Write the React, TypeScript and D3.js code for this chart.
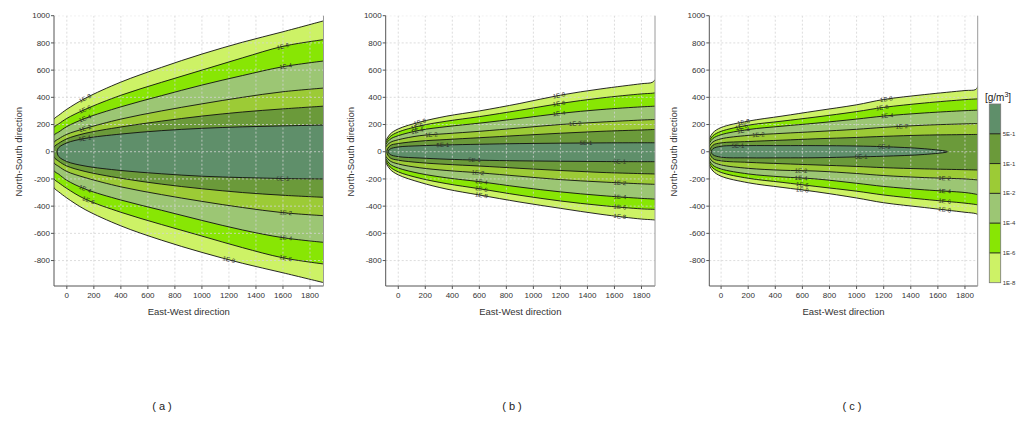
import React from 'react';
import * as d3 from 'd3';

// ---------- data ----------
const LEVELS = ['1E-8', '1E-6', '1E-4', '1E-2', '1E-1', '5E-1'];
const BAND_COLORS = ['#cdf266', '#88e604', '#9cc674', '#9ccb36', '#6b9a3a', '#5f8f6a'];
const LEGEND_LABELS = ['5E-1', '1E-1', '1E-2', '1E-4', '1E-6', '1E-8'];
const X_TICKS = [0, 200, 400, 600, 800, 1000, 1200, 1400, 1600, 1800];
const Y_TICKS = [-800, -600, -400, -200, 0, 200, 400, 600, 800, 1000];
const Y_DOMAIN = [-987, 1000];

// panel (a)
const A_X = [-95, -60, 0, 135, 400, 700, 1000, 1300, 1600, 1900];
const A_LVX = [-200, -170, -140, -120, -105, -72];
const A_RVX = [null, null, null, null, null, null];
const A_UP = [
  [240, 268, 312, 392, 512, 620, 718, 805, 882, 962],
  [180, 205, 245, 311, 415, 510, 600, 690, 775, 824],
  [122, 145, 185, 245, 330, 412, 490, 560, 625, 667],
  [70, 95, 128, 171, 240, 300, 352, 400, 441, 468],
  [35, 62, 95, 135, 182, 225, 262, 292, 315, 335],
  [null, 30, 65, 98, 130, 155, 172, 183, 190, 196],
];
const A_LO = [
  [-265, -295, -340, -425, -545, -650, -740, -820, -890, -962],
  [-200, -228, -270, -348, -445, -535, -620, -705, -780, -825],
  [-140, -165, -210, -274, -355, -430, -505, -575, -632, -666],
  [-82, -108, -145, -190, -258, -315, -365, -410, -448, -470],
  [-40, -70, -105, -145, -195, -238, -272, -300, -320, -335],
  [null, -35, -72, -105, -138, -162, -180, -190, -197, -200],
];
const A_LABELS = [
  [0, 'up', 135], [1, 'up', 135], [2, 'up', 135], [3, 'up', 135], [5, 'up', 135],
  [1, 'up', 1600], [2, 'up', 1620],
  [5, 'lo', 1600], [3, 'lo', 1620], [2, 'lo', 1620], [1, 'lo', 1620], [0, 'lo', 1200],
  [2, 'lo', 135], [1, 'lo', 160],
];

// panel (b)
const B_X = [-93, -60, 0, 160, 360, 600, 900, 1200, 1500, 1800, 1880, 1900];
const B_LVX = [-150, -130, -115, -105, -85, -75];
const B_RVX = [null, null, null, null, null, null];
const B_UP = [
  [82, 130, 168, 218, 262, 300, 355, 416, 462, 500, 510, 530],
  [68, 112, 145, 190, 225, 258, 305, 355, 395, 425, 430, 433],
  [52, 92, 118, 158, 185, 210, 245, 282, 310, 330, 334, 335],
  [34, 68, 88, 118, 133, 150, 175, 200, 218, 233, 236, 237],
  [null, 45, 60, 78, 90, 103, 120, 136, 150, 160, 163, 164],
  [null, 20, 35, 44, 50, 55, 60, 63, 65, 66, 66, 66],
];
const B_LO = [
  [-80, -130, -170, -225, -275, -318, -370, -416, -460, -495, -500, -502],
  [-66, -112, -148, -195, -235, -272, -320, -362, -395, -420, -423, -424],
  [-50, -92, -120, -160, -192, -220, -260, -295, -322, -343, -347, -348],
  [-33, -68, -90, -118, -138, -155, -180, -205, -222, -236, -239, -240],
  [null, -45, -62, -80, -93, -105, -122, -138, -152, -161, -163, -164],
  [null, -20, -36, -46, -55, -62, -67, -70, -72, -73, -73, -73],
];
const B_LABELS = [
  [0, 'up', 160], [1, 'up', 140], [2, 'up', 140], [3, 'up', 245], [5, 'up', 330],
  [0, 'up', 1190], [1, 'up', 1190], [2, 'up', 1190], [3, 'up', 1310], [5, 'up', 1390],
  [5, 'lo', 565], [3, 'lo', 590], [2, 'lo', 615], [1, 'lo', 615], [0, 'lo', 615],
  [5, 'lo', 1640], [3, 'lo', 1640], [2, 'lo', 1640], [1, 'lo', 1640], [0, 'lo', 1640],
];

// panel (c)
const C_X = [-87, -60, 0, 200, 450, 700, 1000, 1200, 1500, 1800, 1880, 1900];
const C_LVX = [-150, -130, -115, -105, -85, -72];
const C_RVX = [null, null, null, null, null, 1670];
const C_UP = [
  [97, 140, 178, 225, 262, 300, 345, 384, 420, 450, 458, 490],
  [80, 118, 150, 195, 225, 255, 295, 326, 358, 383, 388, 389],
  [62, 98, 125, 163, 188, 210, 240, 262, 285, 302, 305, 306],
  [40, 72, 95, 120, 135, 148, 165, 179, 195, 205, 207, 208],
  [null, 48, 65, 75, 85, 95, 105, 113, 122, 126, 127, 127],
  [null, 22, 40, 45, 45, 45, 42, 37, 22, null, null, null],
];
const C_LO = [
  [-100, -142, -180, -228, -262, -294, -340, -375, -410, -445, -455, -465],
  [-82, -120, -152, -195, -225, -255, -290, -318, -350, -378, -388, -392],
  [-64, -100, -127, -163, -185, -200, -232, -255, -280, -300, -312, -318],
  [-42, -74, -97, -122, -136, -142, -160, -175, -190, -200, -206, -208],
  [null, -50, -67, -78, -88, -97, -108, -117, -126, -132, -134, -135],
  [null, -22, -40, -45, -45, -44, -38, -33, -20, null, null, null],
];
const C_LABELS = [
  [0, 'up', 165], [1, 'up', 150], [2, 'up', 165], [3, 'up', 275], [5, 'up', 125],
  [0, 'up', 1220], [1, 'up', 1190], [2, 'up', 1225], [3, 'up', 1335], [5, 'up', 1205],
  [5, 'lo', 1035], [3, 'lo', 590], [2, 'lo', 590], [1, 'lo', 600], [0, 'lo', 600],
  [3, 'lo', 1650], [2, 'lo', 1650], [1, 'lo', 1650], [0, 'lo', 1650],
];

// ---------- layout ----------
const FONT = 'Arial, "Liberation Sans", sans-serif';
const PLOT_TOP = 15.7;
const PLOT_BOTTOM = 286;

const PANELS = [
  { id: 'a', left: 54, right: 323.5, xDomain: [-95, 1900], X: A_X, LVX: A_LVX, RVX: A_RVX, UP: A_UP, LO: A_LO, LABELS: A_LABELS, title: '( a )', titleX: 162 },
  { id: 'b', left: 385.7, right: 655, xDomain: [-93, 1900], X: B_X, LVX: B_LVX, RVX: B_RVX, UP: B_UP, LO: B_LO, LABELS: B_LABELS, title: '( b )', titleX: 512 },
  { id: 'c', left: 709.3, right: 977.7, xDomain: [-87, 1894], X: C_X, LVX: C_LVX, RVX: C_RVX, UP: C_UP, LO: C_LO, LABELS: C_LABELS, title: '( c )', titleX: 852 },
];

type Pt = [number, number];

function buildContour(xs: number[], up: (number | null)[], lo: (number | null)[], lvx: number, rvx: number | null) {
  const U: Pt[] = [];
  const L: Pt[] = [];
  xs.forEach((x, i) => {
    if (up[i] == null || lo[i] == null) return;
    if (x <= lvx) return;
    if (rvx != null && x >= rvx) return;
    U.push([x, up[i] as number]);
    L.push([x, lo[i] as number]);
  });
  const pts: Pt[] = [];
  if (rvx != null) pts.push([rvx, 0]);
  for (let i = U.length - 1; i >= 0; i--) pts.push(U[i]);
  pts.push([lvx, 0]);
  for (let i = 0; i < L.length; i++) pts.push(L[i]);
  const upLine: Pt[] = [[lvx, 0], ...U, ...(rvx != null ? [[rvx, 0] as Pt] : [])];
  const loLine: Pt[] = [[lvx, 0], ...L, ...(rvx != null ? [[rvx, 0] as Pt] : [])];
  return { pts, closed: rvx != null, upLine, loLine };
}

function interp(line: Pt[], x: number) {
  for (let i = 0; i < line.length - 1; i++) {
    const a = line[i], b = line[i + 1];
    if (x >= a[0] && x <= b[0]) {
      const t = (x - a[0]) / (b[0] - a[0] || 1);
      return a[1] + t * (b[1] - a[1]);
    }
  }
  return line[line.length - 1][1];
}

function Panel({ p }: { p: any }) {
  const xs = d3.scaleLinear().domain(p.xDomain).range([p.left, p.right]);
  const ys = d3.scaleLinear().domain(Y_DOMAIN).range([PLOT_BOTTOM, PLOT_TOP]);
  const contours = LEVELS.map((_, i) => buildContour(p.X, p.UP[i], p.LO[i], p.LVX[i], p.RVX[i]));
  const clipId = `clip-${p.id}`;
  const mk = (closed: boolean) =>
    d3.line<Pt>().x(d => xs(d[0])).y(d => ys(d[1])).curve(closed ? d3.curveCatmullRomClosed : d3.curveCatmullRom);

  return (
    <g>
      <defs>
        <clipPath id={clipId}>
          <rect x={p.left} y={PLOT_TOP} width={p.right - p.left} height={PLOT_BOTTOM - PLOT_TOP} />
        </clipPath>
      </defs>
      <g clipPath={`url(#${clipId})`}>
        {contours.map((c, i) => {
          const d = mk(c.closed)(c.pts) + (c.closed ? '' : 'Z');
          return <path key={`f${i}`} d={d} fill={BAND_COLORS[i]} stroke="none" />;
        })}
        {/* grid */}
        {X_TICKS.map(t => (
          <line key={`gx${t}`} x1={xs(t)} x2={xs(t)} y1={PLOT_TOP} y2={PLOT_BOTTOM} stroke="#d4d4d4" strokeDasharray="2,2" strokeWidth={0.8} />
        ))}
        {Y_TICKS.map(t => (
          <line key={`gy${t}`} x1={p.left} x2={p.right} y1={ys(t)} y2={ys(t)} stroke="#d4d4d4" strokeDasharray="2,2" strokeWidth={0.8} />
        ))}
        {contours.map((c, i) => {
          const d = mk(c.closed)(c.pts) as string;
          return <path key={`s${i}`} d={d} fill="none" stroke="#111" strokeWidth={0.9} />;
        })}
        {p.LABELS.map((lb: any, k: number) => {
          const [li, side, x] = lb;
          const c = contours[li];
          const line = side === 'up' ? c.upLine : c.loLine;
          const y = interp(line, x);
          const px = xs(x), py = ys(y);
          const x1 = xs(x - 40), x2 = xs(x + 40);
          const y1 = ys(interp(line, x - 40)), y2 = ys(interp(line, x + 40));
          const ang = (Math.atan2(y2 - y1, x2 - x1) * 180) / Math.PI;
          return (
            <text key={`l${k}`} x={px} y={py} dy="0.33em" textAnchor="middle" fontSize={6} fontFamily={FONT} fill="#2a2a2a"
              transform={`rotate(${ang},${px},${py})`}>{LEVELS[li]}</text>
          );
        })}
      </g>
      {/* axes */}
      <line x1={p.left} x2={p.left} y1={PLOT_TOP} y2={PLOT_BOTTOM} stroke="#555" strokeWidth={1} />
      <line x1={p.left} x2={p.right} y1={PLOT_BOTTOM} y2={PLOT_BOTTOM} stroke="#555" strokeWidth={1} />
      <line x1={p.right} x2={p.right} y1={PLOT_TOP} y2={PLOT_BOTTOM} stroke="#9a9a9a" strokeWidth={1} />
      {Y_TICKS.map(t => (
        <g key={`yt${t}`}>
          <line x1={p.left - 3} x2={p.left} y1={ys(t)} y2={ys(t)} stroke="#555" />
          <text x={p.left - 4} y={ys(t)} dy="0.33em" textAnchor="end" fontSize={8} fontFamily={FONT} fill="#333">{t}</text>
        </g>
      ))}
      {X_TICKS.map(t => (
        <g key={`xt${t}`}>
          <line x1={xs(t)} x2={xs(t)} y1={PLOT_BOTTOM} y2={PLOT_BOTTOM + 3} stroke="#555" />
          <text x={xs(t)} y={PLOT_BOTTOM + 12} textAnchor="middle" fontSize={8} fontFamily={FONT} fill="#333">{t}</text>
        </g>
      ))}
      <text x={(p.left + p.right) / 2} y={315} textAnchor="middle" fontSize={9.5} fontFamily={FONT} fill="#333">East-West direction</text>
      <text transform={`translate(${p.left - 35},${ys(0)}) rotate(-90)`} textAnchor="middle" dy="0.33em" fontSize={9.5} fontFamily={FONT} fill="#333">North-South direction</text>
      <text x={p.titleX} y={410} textAnchor="middle" fontSize={11} fontFamily={FONT} fill="#222">{p.title}</text>
    </g>
  );
}

function Legend() {
  const left = 989.3, width = 11.4;
  const band = d3.scaleBand<string>().domain(LEGEND_LABELS).range([104, 282.7]).paddingInner(0).paddingOuter(0);
  const colors = BAND_COLORS.slice().reverse();
  return (
    <g>
      <text x={985} y={101} fontSize={10} fontFamily={FONT} fill="#222">
        [g/m<tspan dy={-4} fontSize={7}>3</tspan><tspan dy={4}>]</tspan>
      </text>
      {LEGEND_LABELS.map((l, i) => (
        <rect key={l} x={left} y={band(l)} width={width} height={band.bandwidth()} fill={colors[i]} />
      ))}
      {LEGEND_LABELS.map((l, i) => (
        <g key={`lt${l}`}>
          {i < LEGEND_LABELS.length - 1 && (
            <line x1={left} x2={left + width} y1={(band(l) as number) + band.bandwidth()} y2={(band(l) as number) + band.bandwidth()} stroke="#111" strokeWidth={0.9} />
          )}
          <text x={left + width + 2} y={(band(l) as number) + band.bandwidth()} dy="0.33em" fontSize={6} fontFamily={FONT} fill="#333">{l}</text>
        </g>
      ))}
      <rect x={left} y={104} width={width} height={282.7 - 104} fill="none" stroke="#777" strokeWidth={0.8} />
    </g>
  );
}

export default function App() {
  return (
    <svg width={1031} height={425} style={{ position: 'absolute', left: 0, top: 0, background: '#fff' }}>
      <rect x={0} y={0} width={1031} height={425} fill="#fff" />
      {PANELS.map(p => <Panel key={p.id} p={p} />)}
      <Legend />
    </svg>
  );
}
